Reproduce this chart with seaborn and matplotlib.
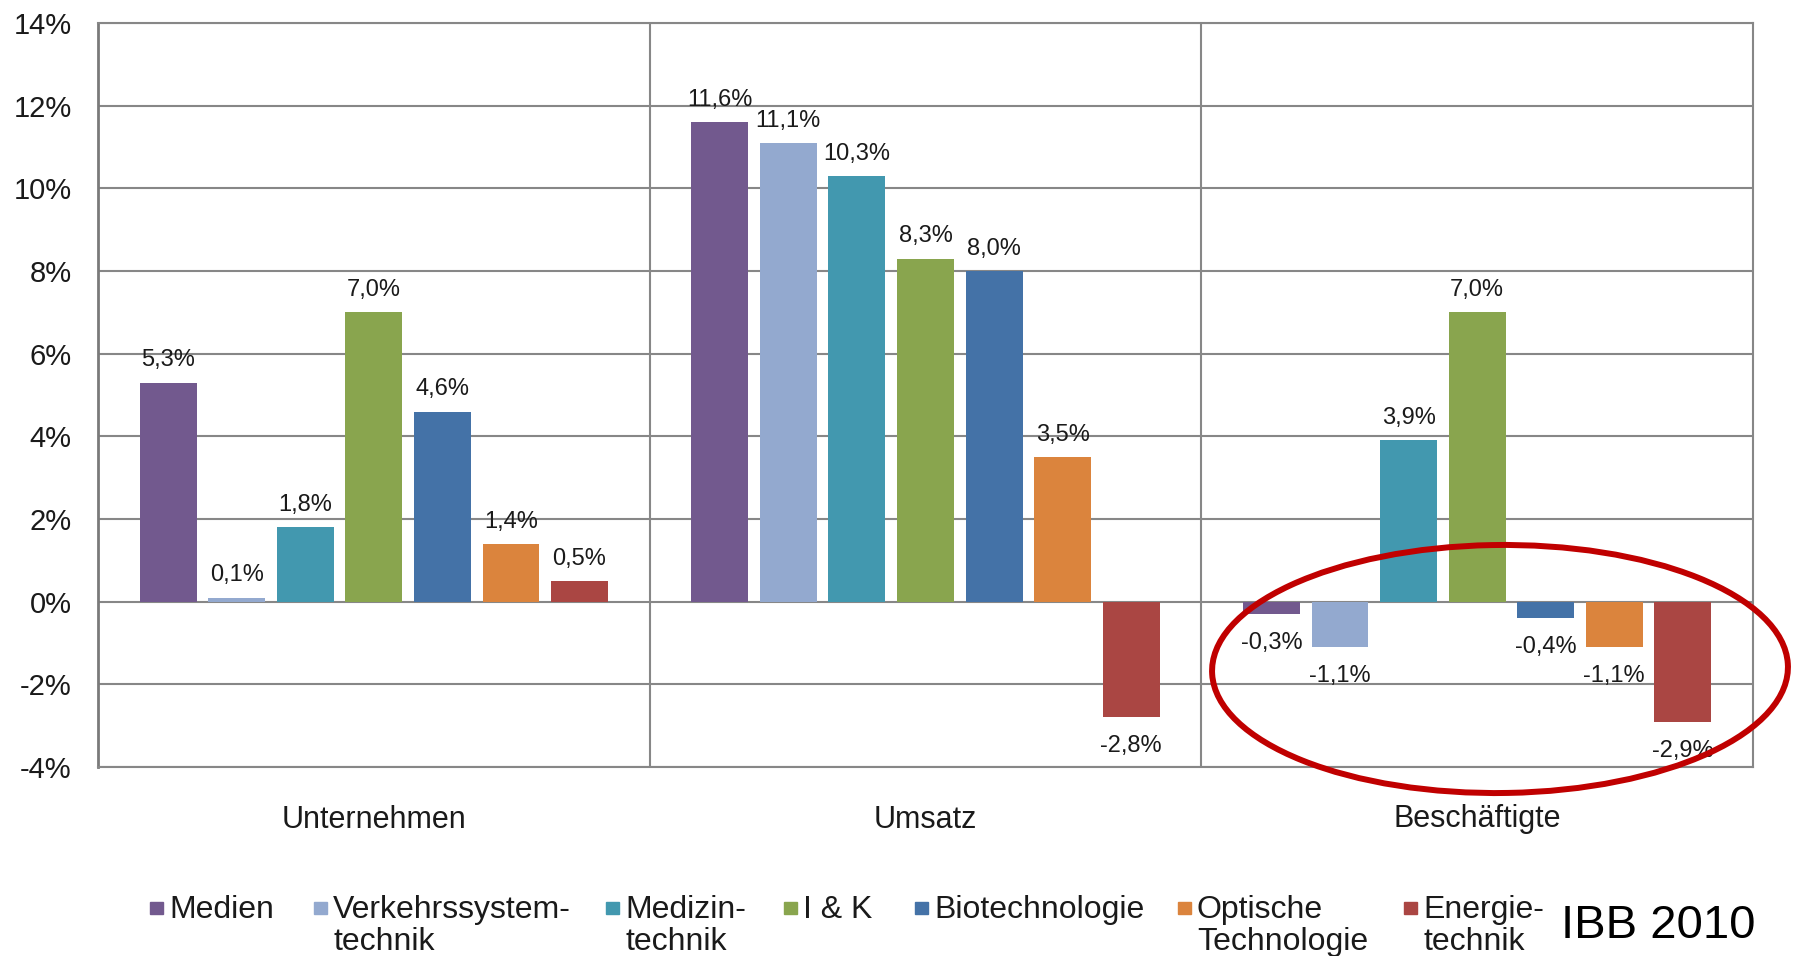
import pandas as pd
import matplotlib
matplotlib.use("Agg")
import matplotlib.pyplot as plt
import seaborn as sns
from matplotlib.patches import Ellipse, Rectangle

groups = ["Unternehmen", "Umsatz", "Beschäftigte"]
sectors = ["Medien", "Verkehrssystem-\ntechnik", "Medizin-\ntechnik", "I & K",
           "Biotechnologie", "Optische\nTechnologie", "Energie-\ntechnik"]
colors = ["#72598e", "#93a9cf", "#4298af", "#89a54e", "#4472a7", "#db843d", "#aa4643"]
unternehmen = [5.3, 0.1, 1.8, 7.0, 4.6, 1.4, 0.5]
umsatz = [11.6, 11.1, 10.3, 8.3, 8.0, 3.5, -2.8]
beschaeftigte = [-0.3, -1.1, 3.9, 7.0, -0.4, -1.1, -2.9]
y_ticks = [-4, -2, 0, 2, 4, 6, 8, 10, 12, 14]
source = "IBB 2010"

rows = []
for g, vals in zip(groups, [unternehmen, umsatz, beschaeftigte]):
    for s, v in zip(sectors, vals):
        rows.append({"group": g, "sector": s, "value": v})
df = pd.DataFrame(rows)

sns.set_theme(style="white")
plt.rcParams["font.family"] = ["Liberation Sans", "DejaVu Sans"]

W, H = 1793, 956
fig = plt.figure(figsize=(W / 100, H / 100), dpi=100)
ax = fig.add_axes([98 / W, 1 - 767 / H, (1753 - 98) / W, (767 - 23) / H])

grid_col = "#878787"
ax.set_axisbelow(True)
ax.yaxis.grid(True, color=grid_col, lw=1.5)
for xs in [0.5, 1.5]:
    ax.axvline(xs, color=grid_col, lw=1.5, zorder=0.5)

sns.barplot(data=df, x="group", y="value", hue="sector", palette=colors,
            width=0.87, gap=0.17, saturation=1, legend=False, ax=ax,
            linewidth=0, edgecolor="none")

# value labels, above positive bars and below negative ones
for cont in ax.containers:
    for bar, v in zip(cont, cont.datavalues):
        txt = f"{v:.1f}%".replace(".", ",")
        end = bar.get_y() + bar.get_height()
        ax.annotate(txt, (bar.get_x() + bar.get_width() / 2, end),
                    xytext=(0, 8 if v >= 0 else -13), textcoords="offset points",
                    ha="center", va="bottom" if v >= 0 else "top",
                    fontsize=17, color="#1a1a1a")

ax.set_ylim(-4, 14)
ax.set_xlim(-0.5, 2.5)
ax.set_yticks(y_ticks)
ax.set_yticklabels([f"{t}%" for t in y_ticks])
ax.set_xlabel("")
ax.set_ylabel("")
ax.tick_params(axis="y", length=0, pad=19, labelsize=21, labelcolor="#1a1a1a")
ax.tick_params(axis="x", length=0, pad=27, labelsize=22, labelcolor="#1a1a1a")
for side in ["top", "right", "bottom"]:
    ax.spines[side].set_color(grid_col)
    ax.spines[side].set_linewidth(1.5)
ax.spines["left"].set_color("#7a7a7a")
ax.spines["left"].set_linewidth(2)

# legend drawn by hand so the squares sit at the first line
marker_x = [150, 314, 606, 784, 915, 1178, 1404]
for mx, s, c in zip(marker_x, sectors, colors):
    fig.patches.append(Rectangle((mx / W, 1 - 914 / H), 12.5 / W, 12.5 / H,
                                 transform=fig.transFigure, color=c))
    fig.text((mx + 19) / W, 1 - 895 / H, s, fontsize=23, va="top",
             ha="left", linespacing=1.1, color="#1a1a1a")

fig.text(1561 / W, 1 - 926 / H, source, fontsize=34, va="center", ha="left",
         color="black")

fig.add_artist(Ellipse((1500 / W, 1 - 669 / H), 576 / W, 248 / H, angle=2,
                       transform=fig.transFigure, fill=False,
                       edgecolor="#c00000", lw=4.3))

fig.savefig("out.png", dpi=100)
